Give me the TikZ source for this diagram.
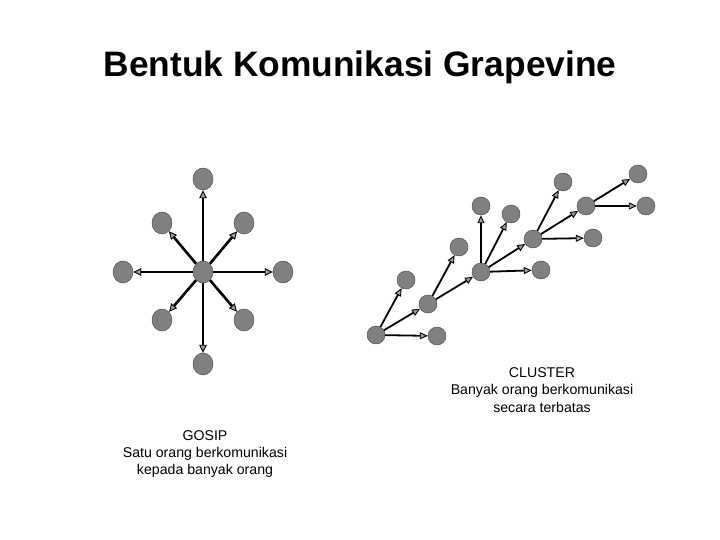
\documentclass[tikz,border=0pt]{standalone}
\usepackage{fontspec}
\setmainfont{Liberation Sans}
\usetikzlibrary{arrows.meta,shapes.geometric}
\definecolor{isi}{RGB}{128,128,128}
\begin{document}
\begin{tikzpicture}[x=1bp,y=-1bp,
  orang/.style={ellipse,draw=black!75,fill=isi,minimum width=20bp,minimum height=22bp,inner sep=0pt},
  titik/.style={circle,draw=black!75,fill=isi,minimum size=18bp,inner sep=0pt},
  panah/.style={line width=2.6bp,-{Triangle[length=8bp,width=7.5bp,line width=0.9bp,fill=gray!75]}},
  panahk/.style={line width=1.8bp,-{Triangle[length=8bp,width=7bp,line width=0.9bp,fill=gray!75]}},
  teks/.style={align=center,font=\fontsize{14.2}{17.3}\selectfont}]
\useasboundingbox (0,0) rectangle (720,540);
\node (judul) at (360,67) {\fontsize{35.5}{40}\selectfont\bfseries Bentuk Komunikasi Grapevine};
% gosip
\node[orang] (pusat)      at (203,272) {};
\node[orang] (atas)       at (203,179) {};
\node[orang] (bawah)      at (203,364) {};
\node[orang] (kiri)       at (123,272) {};
\node[orang] (kanan)      at (283,272) {};
\node[orang] (kiriatas)   at (162,223) {};
\node[orang] (kananatas)  at (244,223) {};
\node[orang] (kiribawah)  at (162,320) {};
\node[orang] (kananbawah) at (244,320) {};
\draw[panah] (pusat) -- (atas);
\draw[panah] (pusat) -- (bawah);
\draw[panah] (pusat) -- (kiri);
\draw[panah] (pusat) -- (kanan);
\draw[panah] (pusat) -- (kiriatas);
\draw[panah] (pusat) -- (kananatas);
\draw[panah] (pusat) -- (kiribawah);
\draw[panah] (pusat) -- (kananbawah);
\node[teks] (gosip) at (205,454) {GOSIP\\Satu orang berkomunikasi\\kepada banyak orang};
% cluster
\node[titik] (a) at (376,335) {};
\node[titik] (b) at (437,336) {};
\node[titik] (c) at (406,280) {};
\node[titik] (d) at (428,304) {};
\node[titik] (e) at (459,247) {};
\node[titik] (f) at (481,272) {};
\node[titik] (g) at (541,270) {};
\node[titik] (h) at (481,206) {};
\node[titik] (i) at (511,214) {};
\node[titik] (j) at (533,239) {};
\node[titik] (k) at (593,238) {};
\node[titik] (l) at (563,182) {};
\node[titik] (m) at (586,206) {};
\node[titik] (n) at (638,174) {};
\node[titik] (o) at (646,206) {};
\draw[panahk] (a) -- (b);
\draw[panahk] (a) -- (c);
\draw[panahk] (a) -- (d);
\draw[panahk] (d) -- (e);
\draw[panahk] (d) -- (f);
\draw[panahk] (f) -- (h);
\draw[panahk] (f) -- (i);
\draw[panahk] (f) -- (j);
\draw[panahk] (f) -- (g);
\draw[panahk] (j) -- (l);
\draw[panahk] (j) -- (m);
\draw[panahk] (j) -- (k);
\draw[panahk] (m) -- (n);
\draw[panahk] (m) -- (o);
\node[teks] (cluster) at (542,390) {CLUSTER\\Banyak orang berkomunikasi\\secara terbatas};
\end{tikzpicture}
\end{document}
